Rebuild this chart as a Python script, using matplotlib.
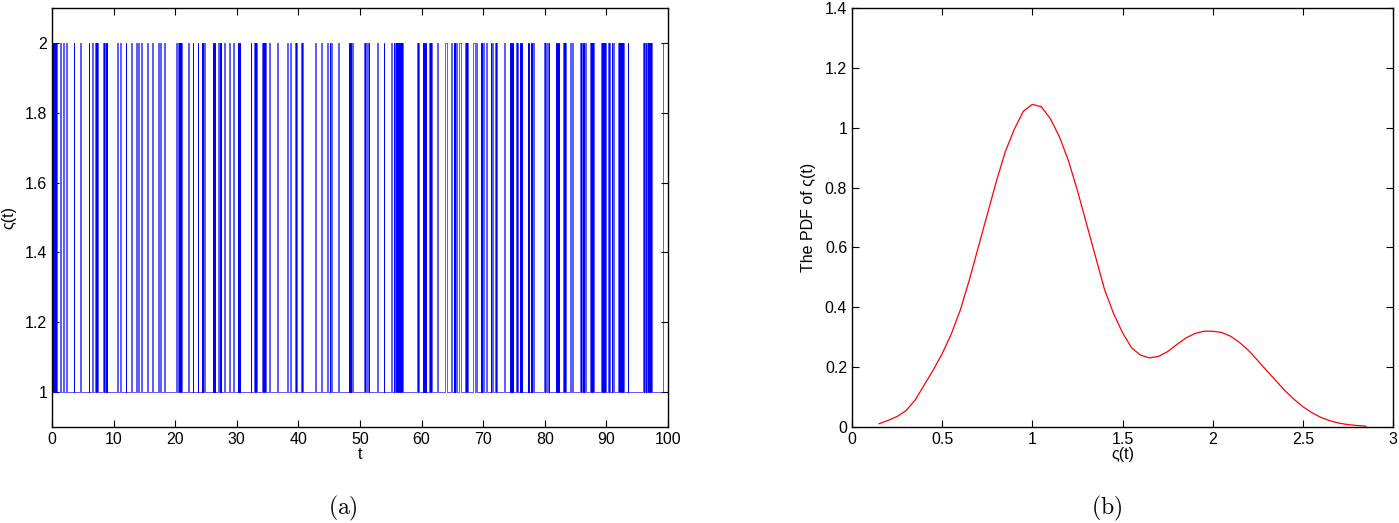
import matplotlib
matplotlib.use("Agg")
import matplotlib.pyplot as plt
import numpy as np

plt.rcParams['font.family'] = ['Liberation Sans', 'DejaVu Sans']
plt.rcParams['mathtext.fontset'] = 'cm'

# (a) switching times of the chain, starts in state 2 at t=0
t_end = 100
start_state = 2
switch_t = [
    0.10, 0.18, 0.26, 0.34, 0.42, 0.50, 0.58, 0.66, 0.76,
    1.30, 1.45, 1.72, 1.90, 2.32, 2.48, 3.50, 3.62, 4.58, 4.72, 5.96, 6.08, 6.52, 6.64,
    6.90, 6.98, 7.05, 7.13, 7.20, 7.28, 7.33, 7.40,
    8.30, 8.38, 8.45, 8.53, 8.60, 8.68, 8.74, 8.82, 8.86, 8.92,
    10.52, 10.64, 11.02, 11.14, 11.98, 12.08, 12.82, 12.92, 13.62, 13.78, 13.96, 14.08,
    14.48, 14.62, 15.46, 15.58, 16.28, 16.38, 17.22, 17.34, 17.52, 17.68, 18.12, 18.28,
    20.12, 20.28, 20.50, 20.58, 20.65, 20.73, 20.80, 20.88, 20.95, 21.05,
    22.06, 22.18, 22.82, 22.94, 23.66, 23.78,
    24.30, 24.38, 24.45, 24.53, 24.60, 24.68, 24.75, 24.85,
    26.10, 26.18, 26.25, 26.33, 26.40, 26.50,
    27.00, 27.10, 27.20, 27.28, 27.38, 27.50,
    27.92, 28.06, 28.72, 28.84, 28.88, 28.96, 29.40, 29.50,
    30.15, 30.24, 30.32, 30.40, 30.48, 30.60,
    32.26, 32.38, 32.80, 32.90, 32.98, 33.08, 33.12, 33.20,
    34.10, 34.18, 34.26, 34.34, 34.42, 34.50, 34.58, 34.70,
    35.22, 35.38, 36.52, 36.66, 38.16, 38.32, 38.62, 38.74,
    39.45, 39.55, 39.62, 39.70, 39.74, 39.80,
    40.42, 40.52, 40.58, 40.68, 42.72, 42.84, 43.66, 43.82, 44.66, 44.78,
    45.10, 45.20, 45.28, 45.40, 46.42, 46.54,
    48.20, 48.28, 48.36, 48.44, 48.48, 48.55, 48.76, 48.92,
    50.66, 50.76, 50.84, 50.94, 51.16, 51.24, 51.42, 51.54,
    52.76, 52.86, 52.90, 52.98, 53.82, 53.96,
    55.02, 55.18, 55.46, 55.58, 55.70, 55.80, 55.86, 55.94,
    56.06, 56.16, 56.22, 56.30,
    56.40, 56.48, 56.56, 56.64, 56.72, 56.80, 56.84, 56.90,
    59.26, 59.36, 59.44, 59.52, 59.56, 59.60,
    60.20, 60.28, 60.36, 60.44, 60.52, 60.60, 60.64, 60.70,
    61.26, 61.34, 61.42, 61.50, 61.58, 61.66, 61.70, 61.75,
    62.56, 62.64, 63.86, 64.06, 64.72, 64.92,
    65.20, 65.28, 65.36, 65.44, 65.52, 65.60, 65.66, 65.75,
    66.12, 66.32,
    67.10, 67.18, 67.26, 67.34, 67.42, 67.55,
    68.42, 68.62, 68.86, 69.02,
    69.60, 69.68, 69.76, 69.84, 69.92, 70.00, 70.04, 70.10,
    70.46, 70.58,
    71.20, 71.28, 71.36, 71.44, 71.48, 71.55,
    71.96, 72.04, 72.12, 72.20, 72.24, 72.30,
    73.42, 73.62,
    74.35, 74.43, 74.51, 74.59, 74.67, 74.75, 74.82, 74.90,
    75.30, 75.42, 75.50, 75.60,
    75.90, 75.98, 76.06, 76.14, 76.22, 76.35,
    77.22, 77.34, 77.40, 77.50,
    77.75, 77.83, 77.91, 77.99, 78.07, 78.20,
    79.92, 80.04, 80.10, 80.20,
    80.36, 80.44, 80.52, 80.60, 80.64, 80.70,
    81.75, 81.83, 81.91, 81.99, 82.07, 82.15, 82.23, 82.35,
    83.00, 83.08, 83.16, 83.24, 83.32, 83.45,
    84.12, 84.24, 84.42, 84.58,
    85.72, 85.84, 85.90, 86.00,
    86.16, 86.26, 86.34, 86.44, 86.52, 86.62, 86.66, 86.70,
    87.35, 87.43, 87.51, 87.59, 87.67, 87.75, 87.83, 87.95,
    89.20, 89.28, 89.36, 89.44, 89.52, 89.60, 89.68, 89.76, 89.84, 89.95,
    90.26, 90.36, 90.44, 90.60,
    90.86, 90.96, 91.04, 91.20,
    91.95, 92.03, 92.11, 92.19, 92.27, 92.35, 92.43, 92.51, 92.59, 92.67, 92.72, 92.80,
    93.46, 93.58,
    96.00, 96.10, 96.18, 96.28, 96.36, 96.45,
    96.60, 96.68, 96.76, 96.84, 96.92, 97.00, 97.08, 97.16, 97.24, 97.35,
    99.15,
]

# (b) PDF
pdf_x = [0.15, 0.2, 0.25, 0.3, 0.35, 0.4, 0.45, 0.5, 0.55, 0.6, 0.65, 0.7, 0.75, 0.8,
         0.85, 0.9, 0.95, 1.0, 1.05, 1.1, 1.15, 1.2, 1.25, 1.3, 1.35, 1.4, 1.45, 1.5,
         1.55, 1.6, 1.65, 1.7, 1.75, 1.8, 1.85, 1.9, 1.95, 2.0, 2.05, 2.1, 2.15, 2.2,
         2.25, 2.3, 2.35, 2.4, 2.45, 2.5, 2.55, 2.6, 2.65, 2.7, 2.75, 2.8, 2.85]
pdf_y = [0.011, 0.022, 0.035, 0.055, 0.09, 0.14, 0.19, 0.245, 0.31, 0.39, 0.49, 0.60,
         0.71, 0.82, 0.92, 0.995, 1.055, 1.078, 1.07, 1.03, 0.97, 0.89, 0.79, 0.68,
         0.57, 0.46, 0.38, 0.315, 0.265, 0.24, 0.231, 0.236, 0.252, 0.275, 0.297,
         0.312, 0.32, 0.32, 0.316, 0.303, 0.282, 0.255, 0.222, 0.188, 0.155, 0.122,
         0.093, 0.068, 0.048, 0.032, 0.021, 0.013, 0.008, 0.005, 0.003]

# build the stair series
states = [start_state]
for _ in switch_t:
    states.append(3 - states[-1])
step_x = [0] + switch_t + [t_end]
step_y = states + [states[-1]]

fig = plt.figure(figsize=(13.99, 5.23), dpi=100)
ax1 = fig.add_axes([52 / 1399, 96 / 523, 616 / 1399, 419 / 523])
ax2 = fig.add_axes([852 / 1399, 96 / 523, 541 / 1399, 419 / 523])

ax1.step(step_x, step_y, where='post', color='blue', lw=0.45)
ax1.set_xlim(0, 100)
ax1.set_ylim(0.9, 2.1)
ax1.set_xticks(np.arange(0, 101, 10))
ax1.set_yticks([1, 1.2, 1.4, 1.6, 1.8, 2])
ax1.set_yticklabels(['1', '1.2', '1.4', '1.6', '1.8', '2'])
ax1.set_xlabel('t', fontsize=11.5, labelpad=0)
ax1.set_ylabel('ς(t)', fontsize=11.5, labelpad=6)

ax2.plot(pdf_x, pdf_y, color='red', lw=0.9)
ax2.set_xlim(0, 3)
ax2.set_ylim(0, 1.4)
ax2.set_xticks([0, 0.5, 1, 1.5, 2, 2.5, 3])
ax2.set_xticklabels(['0', '0.5', '1', '1.5', '2', '2.5', '3'])
ax2.set_yticks([0, 0.2, 0.4, 0.6, 0.8, 1, 1.2, 1.4])
ax2.set_yticklabels(['0', '0.2', '0.4', '0.6', '0.8', '1', '1.2', '1.4'])
ax2.set_xlabel('ς(t)', fontsize=11.5, labelpad=0)
ax2.set_ylabel('The PDF of ς(t)', fontsize=11.5, labelpad=6)

for ax in (ax1, ax2):
    ax.tick_params(direction='in', top=True, right=True, length=5, width=0.8, labelsize=11.5)
    for s in ax.spines.values():
        s.set_linewidth(1.0)

fig.text(343 / 1399, 1 - 508 / 523, r'$\mathrm{(a)}$', ha='center', va='center', fontsize=17)
fig.text(1107 / 1399, 1 - 508 / 523, r'$\mathrm{(b)}$', ha='center', va='center', fontsize=17)

fig.savefig('out.png', dpi=100)
